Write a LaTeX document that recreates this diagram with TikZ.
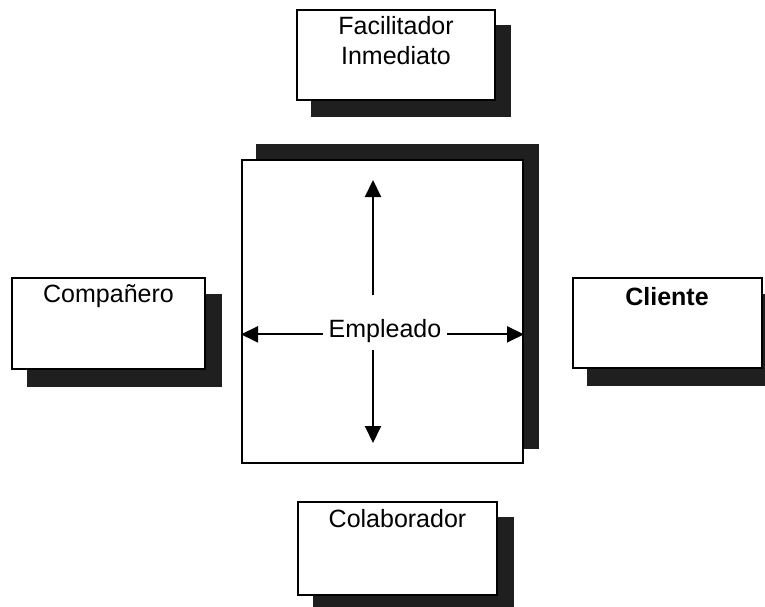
\documentclass[tikz,border=0pt]{standalone}
\usepackage{fontspec}
\setmainfont{Liberation Sans}
\usetikzlibrary{arrows.meta,backgrounds}
\colorlet{shade}{black!88}
\tikzset{
  box/.style={draw=black, fill=white, line width=2pt, inner sep=0pt},
  lbl/.style={font=\fontsize{25}{30}\selectfont, inner sep=0pt, align=center},
  arr/.style={line width=2pt, -{Triangle[length=17pt,width=16pt]}},
  shadowbox/.style={fill=shade, draw=none}
}
\newcommand{\dropshadow}[3]{%
  \fill[shadowbox] ([shift={(#2,#3)}]#1.north west) rectangle ([shift={(#2,#3)}]#1.south east);}
\begin{document}
\begin{tikzpicture}[x=1pt,y=-1pt]
\useasboundingbox (0,0) rectangle (765,607);
% boxes
\node[box, minimum width=198pt, minimum height=90pt] (fac) at (396,55) {};
\node[box, minimum width=281pt, minimum height=303pt] (emp) at (382.5,311.5) {};
\node[box, minimum width=193pt, minimum height=91pt] (com) at (108.5,323.5) {};
\node[box, minimum width=189pt, minimum height=90pt] (cli) at (667.5,323) {};
\node[box, minimum width=199pt, minimum height=93pt] (col) at (397.5,548.5) {};
% drop shadows behind the boxes
\begin{scope}[on background layer]
  \dropshadow{fac}{15}{16}
  \dropshadow{emp}{15}{-15}
  \dropshadow{com}{16}{17}
  \dropshadow{cli}{15}{17}
  \dropshadow{col}{16}{16}
\end{scope}
% labels
\node[lbl, anchor=north] (facT) at (396,16) {Facilitador\\Inmediato};
\node[lbl, anchor=base] (comT) at (108.5,302) {Compañero};
\node[lbl, anchor=base, font=\fontsize{25}{30}\selectfont\bfseries] (cliT) at (667,305) {Cliente};
\node[lbl, anchor=base] (colT) at (397.5,527) {Colaborador};
\node[lbl, anchor=base, inner xsep=6pt] (empT) at (385,337) {Empleado};
% arrows inside the central box
\coordinate (vUp) at (373,295);
\coordinate (vUpEnd) at (373,180);
\coordinate (vDn) at (373,350);
\coordinate (vDnEnd) at (373,443);
\draw[arr] (empT.mid west) -- (empT.mid west -| emp.west);
\draw[arr] (empT.mid east) -- (empT.mid east -| emp.east);
\draw[arr] (vUp) -- (vUpEnd);
\draw[arr] (vDn) -- (vDnEnd);
\end{tikzpicture}
\end{document}
